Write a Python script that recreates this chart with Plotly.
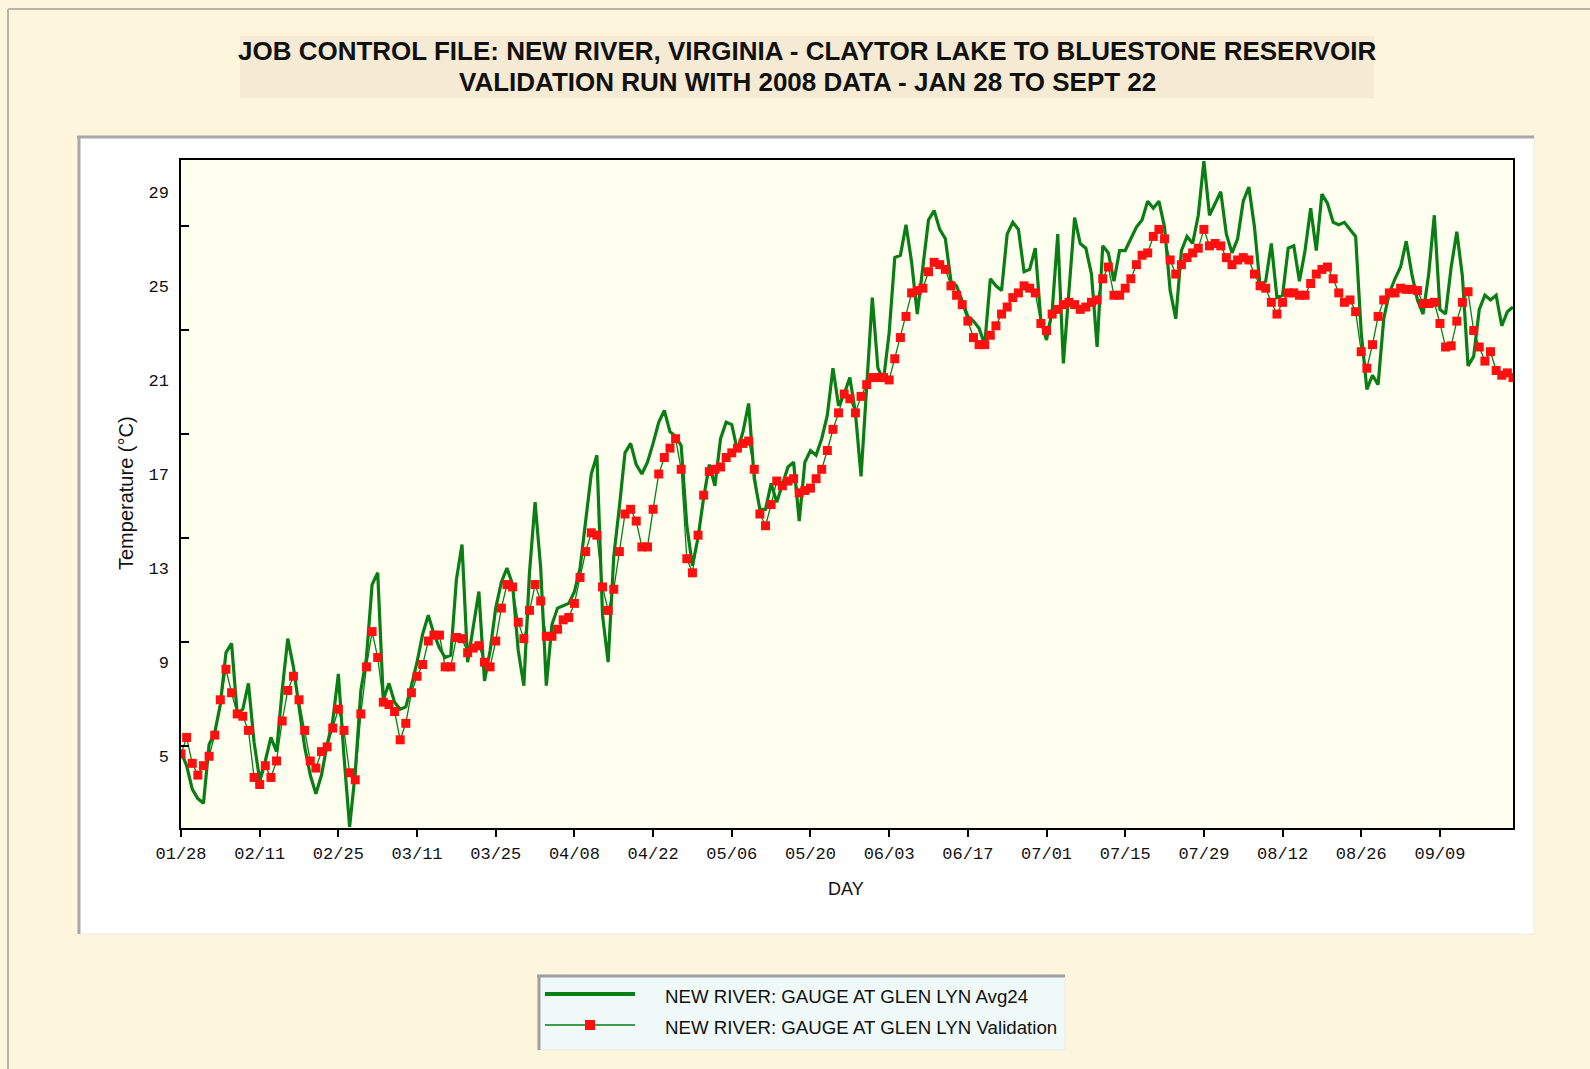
import plotly.graph_objects as go

# ---- data: daily water temperature (deg C), day 0 = 01/28 ----
day_index = list(range(238))

tick_days = [14 * i for i in range(17)]
tick_labels = ["01/28", "02/11", "02/25", "03/11", "03/25", "04/08", "04/22", "05/06",
               "05/20", "06/03", "06/17", "07/01", "07/15", "07/29", "08/12", "08/26", "09/09"]

y_tick_values = [5, 9, 13, 17, 21, 25, 29]

avg24 = [
    5.2, 4.6, 3.6, 3.2, 3.0, 5.5, 6.0, 7.2, 9.4, 9.8,
    6.8, 7.0, 8.1, 5.6, 4.0, 4.8, 5.8, 5.2, 7.8, 10.0,
    8.8, 7.0, 5.4, 4.2, 3.4, 4.2, 5.5, 6.5, 8.5, 5.0,
    2.0, 4.3, 7.8, 9.2, 12.3, 12.8, 7.4, 8.1, 7.3, 7.0,
    7.1, 8.0, 9.0, 10.2, 11.0, 10.2, 9.6, 9.2, 9.3, 12.5,
    14.0, 9.0, 10.5, 12.0, 8.2, 9.5, 11.3, 12.4, 13.0, 12.3,
    9.5, 8.0, 12.8, 15.8, 13.0, 8.0, 10.6, 11.3, 11.4, 11.5,
    12.0, 13.0, 15.0, 17.0, 17.8, 11.0, 9.0, 13.5, 15.6, 17.9,
    18.3, 17.4, 17.0, 17.5, 18.3, 19.2, 19.7, 18.8, 18.6, 18.2,
    14.8, 13.1, 14.3, 16.0, 17.4, 16.5, 18.5, 19.2, 19.1, 18.0,
    18.8, 20.0, 16.8, 15.5, 15.5, 16.6, 15.8, 16.6, 17.3, 17.5,
    15.0, 17.5, 18.0, 17.8, 18.5, 19.5, 21.5, 19.9, 20.4, 21.1,
    19.6, 16.9, 20.6, 24.5, 21.5, 21.0, 23.0, 26.2, 26.3, 27.6,
    26.0, 23.8, 25.8, 27.8, 28.2, 27.4, 27.0, 25.2, 25.0, 24.3,
    23.7, 23.5, 23.2, 22.5, 25.3, 25.0, 24.8, 27.2, 27.7, 27.4,
    25.6, 25.7, 26.6, 23.5, 22.7, 23.9, 27.2, 21.7, 25.0, 27.9,
    26.8, 26.6, 25.5, 22.4, 26.7, 26.4, 25.2, 26.5, 26.5, 27.0,
    27.5, 27.8, 28.6, 28.3, 28.6, 27.5, 24.8, 23.6, 26.5, 27.1,
    26.8, 28.0, 30.3, 28.0, 28.5, 29.0, 27.2, 26.4, 27.0, 28.6,
    29.2, 27.5, 25.0, 25.2, 26.8, 24.5, 24.6, 26.6, 26.7, 25.2,
    26.5, 28.3, 26.5, 28.9, 28.5, 27.7, 27.6, 27.7, 27.4, 27.1,
    23.0, 20.6, 21.2, 20.8, 23.6, 24.7, 25.3, 25.8, 26.9, 25.5,
    24.4, 23.8, 25.5, 28.0, 24.0, 23.8, 25.8, 27.3, 25.4, 21.6,
    22.0, 24.0, 24.6, 24.4, 24.6, 23.3, 23.9, 24.1,
]

validation = [
    5.1, 5.8, 4.7, 4.2, 4.6, 5.0, 5.9, 7.4, 8.7, 7.7,
    6.8, 6.7, 6.1, 4.1, 3.8, 4.6, 4.1, 4.8, 6.5, 7.8,
    8.4, 7.4, 6.1, 4.8, 4.5, 5.2, 5.4, 6.2, 7.0, 6.1,
    4.3, 4.0, 6.8, 8.8, 10.3, 9.2, 7.3, 7.2, 6.9, 5.7,
    6.4, 7.7, 8.4, 8.9, 9.9, 10.15, 10.15, 8.8, 8.8, 10.05,
    10.0, 9.4, 9.6, 9.7, 9.0, 8.8, 9.9, 11.3, 12.3, 12.2,
    10.7, 10.0, 11.2, 12.3, 11.6, 10.1, 10.1, 10.4, 10.8, 10.9,
    11.5, 12.6, 13.7, 14.5, 14.4, 12.2, 11.2, 12.1, 13.7, 15.3,
    15.5, 15.0, 13.9, 13.9, 15.5, 17.0, 17.7, 18.1, 18.5, 17.2,
    13.4, 12.8, 14.4, 16.1, 17.1, 17.2, 17.3, 17.7, 17.9, 18.1,
    18.3, 18.4, 17.2, 15.3, 14.8, 15.7, 16.7, 16.5, 16.7, 16.8,
    16.2, 16.3, 16.4, 16.8, 17.2, 18.0, 18.9, 19.6, 20.4, 20.2,
    19.6, 20.3, 20.8, 21.1, 21.1, 21.1, 21.0, 21.9, 22.8, 23.7,
    24.7, 24.8, 24.9, 25.6, 26.0, 25.9, 25.7, 25.0, 24.6, 24.2,
    23.5, 22.8, 22.5, 22.5, 22.9, 23.3, 23.8, 24.1, 24.5, 24.7,
    25.0, 24.9, 24.7, 23.4, 23.1, 23.8, 24.0, 24.2, 24.3, 24.2,
    24.0, 24.1, 24.3, 24.4, 25.3, 25.8, 24.6, 24.6, 24.9, 25.3,
    25.9, 26.3, 26.4, 27.1, 27.4, 27.0, 26.1, 25.5, 25.9, 26.2,
    26.4, 26.6, 27.4, 26.7, 26.8, 26.7, 26.2, 25.9, 26.1, 26.2,
    26.1, 25.5, 25.0, 24.9, 24.3, 23.8, 24.3, 24.7, 24.7, 24.6,
    24.6, 25.1, 25.5, 25.7, 25.8, 25.3, 24.7, 24.3, 24.4, 23.9,
    22.2, 21.5, 22.5, 23.7, 24.4, 24.7, 24.7, 24.9, 24.85, 24.85,
    24.8, 24.25, 24.25, 24.3, 23.4, 22.4, 22.45, 23.5, 24.3, 24.75,
    23.1, 22.4, 21.8, 22.2, 21.4, 21.2, 21.3, 21.1,
]

series_names = ["NEW RIVER: GAUGE AT GLEN LYN Avg24",
                "NEW RIVER: GAUGE AT GLEN LYN Validation"]

# ---- page geometry (pixels) ----
PAGE_W, PAGE_H = 1590, 1069
L, R, T, B = 181, 1513, 160, 828

GREEN = "#0a7d14"
RED = "#ff1010"
NARROW = "Liberation Sans Narrow, Arial Narrow, Liberation Sans, Arial, sans-serif"
SANS = "Liberation Sans, Arial, sans-serif"
MONO = "Liberation Mono, DejaVu Sans Mono, monospace"


def px(x):
    return (x - L) / (R - L)


def py(y):
    return (B - y) / (B - T)


def rect(x0, y0, x1, y1, fill, line_color=None, width=0):
    return dict(type="rect", xref="paper", yref="paper", layer="below",
                x0=px(x0), x1=px(x1), y0=py(y1), y1=py(y0),
                fillcolor=fill,
                line=dict(color=line_color or fill, width=width))


def hline(x0, x1, y, color, width, layer="below"):
    return dict(type="line", xref="paper", yref="paper", layer=layer,
                x0=px(x0), x1=px(x1), y0=py(y), y1=py(y),
                line=dict(color=color, width=width))


def vline(x, y0, y1, color, width, layer="below"):
    return dict(type="line", xref="paper", yref="paper", layer=layer,
                x0=px(x), x1=px(x), y0=py(y0), y1=py(y1),
                line=dict(color=color, width=width))


fig = go.Figure()

fig.add_trace(go.Scatter(
    x=day_index, y=avg24, mode="lines", name=series_names[0],
    line=dict(color=GREEN, width=3.2), showlegend=False))

fig.add_trace(go.Scatter(
    x=day_index, y=validation, mode="lines+markers", name=series_names[1],
    line=dict(color=GREEN, width=1.3),
    marker=dict(symbol="square", size=9, color=RED, line=dict(width=0)),
    showlegend=False))

shapes = []
# outer frame
shapes.append(hline(8, PAGE_W + 5, 9, "#b8b4a8", 2))
shapes.append(vline(8, 9, PAGE_H + 5, "#b8b4a8", 2))
# title band
shapes.append(rect(240, 36, 1374, 98, "#f5ead3"))
# chart panel
shapes.append(rect(78, 136, 1534, 934, "#ffffff", "#ebebeb", 1))
shapes.append(hline(77, 1534, 137, "#a8a8a8", 3))
shapes.append(vline(79, 136, 934, "#a8a8a8", 3))
# plotting area background
shapes.append(rect(L, T, R, B, "#fffff0"))
# legend box
shapes.append(rect(538, 975, 1065, 1050, "#eff9f7", "#e4ecea", 1))
shapes.append(hline(537, 1065, 976, "#a0a0a0", 3))
shapes.append(vline(539, 975, 1050, "#a0a0a0", 3))
# legend keys
shapes.append(hline(545, 635, 994, GREEN, 4, layer="above"))
shapes.append(hline(545, 635, 1025, GREEN, 1.5, layer="above"))
shapes.append(dict(type="rect", xref="paper", yref="paper", layer="above",
                   x0=px(585), x1=px(595), y0=py(1030), y1=py(1020),
                   fillcolor=RED, line=dict(color=RED, width=0)))

annotations = [
    dict(text="<b>JOB CONTROL FILE: NEW RIVER, VIRGINIA - CLAYTOR LAKE TO BLUESTONE RESERVOIR</b>",
         x=px(807), y=py(51), xref="paper", yref="paper", showarrow=False,
         xanchor="center", yanchor="middle",
         font=dict(family=NARROW, size=26, color="#111111")),
    dict(text="<b>VALIDATION RUN WITH 2008 DATA - JAN 28 TO SEPT 22</b>",
         x=px(807), y=py(82), xref="paper", yref="paper", showarrow=False,
         xanchor="center", yanchor="middle",
         font=dict(family=NARROW, size=26, color="#111111")),
    dict(text="Temperature (°C)", x=px(126), y=py(493), xref="paper", yref="paper",
         showarrow=False, textangle=-90, xanchor="center", yanchor="middle",
         font=dict(family=SANS, size=20, color="#111111")),
    dict(text="DAY", x=px(846), y=py(889), xref="paper", yref="paper",
         showarrow=False, xanchor="center", yanchor="middle",
         font=dict(family=SANS, size=18, color="#111111")),
    dict(text=series_names[0], x=px(663), y=py(996), xref="paper", yref="paper",
         showarrow=False, xanchor="left", yanchor="middle",
         font=dict(family=SANS, size=18.7, color="#111111")),
    dict(text=series_names[1], x=px(663), y=py(1027), xref="paper", yref="paper",
         showarrow=False, xanchor="left", yanchor="middle",
         font=dict(family=SANS, size=18.7, color="#111111")),
]

# tick marks on the value axis sit on their own 4.42-degree spacing
minor_step = 4.42
minor_vals = [5.45 + minor_step * k for k in range(6)]

fig.update_layout(
    width=PAGE_W, height=PAGE_H,
    margin=dict(l=L, r=PAGE_W - R, t=T, b=PAGE_H - B, pad=0),
    paper_bgcolor="#fdf5dc",
    plot_bgcolor="rgba(0,0,0,0)",
    shapes=shapes,
    annotations=annotations,
    showlegend=False,
    xaxis=dict(
        range=[0, 237], tickmode="array", tickvals=tick_days, ticktext=tick_labels,
        ticks="outside", ticklen=7, tickwidth=1.5, tickcolor="#000000",
        tickfont=dict(family=MONO, size=17, color="#111111"),
        ticklabelstandoff=2,
        showgrid=False, zeroline=False,
        showline=True, linecolor="#000000", linewidth=1.5, mirror=True,
    ),
    yaxis=dict(
        range=[1.95, 30.35], tickmode="array", tickvals=y_tick_values,
        ticktext=[str(v) for v in y_tick_values],
        ticks="", tickfont=dict(family=MONO, size=17, color="#111111"),
        ticklabelstandoff=7,
        minor=dict(tickmode="array", tickvals=minor_vals, ticks="inside",
                   ticklen=8, tickwidth=1.5, tickcolor="#000000", showgrid=False),
        showgrid=False, zeroline=False,
        showline=True, linecolor="#000000", linewidth=1.5, mirror=True,
    ),
)

fig.write_html("out.html")
